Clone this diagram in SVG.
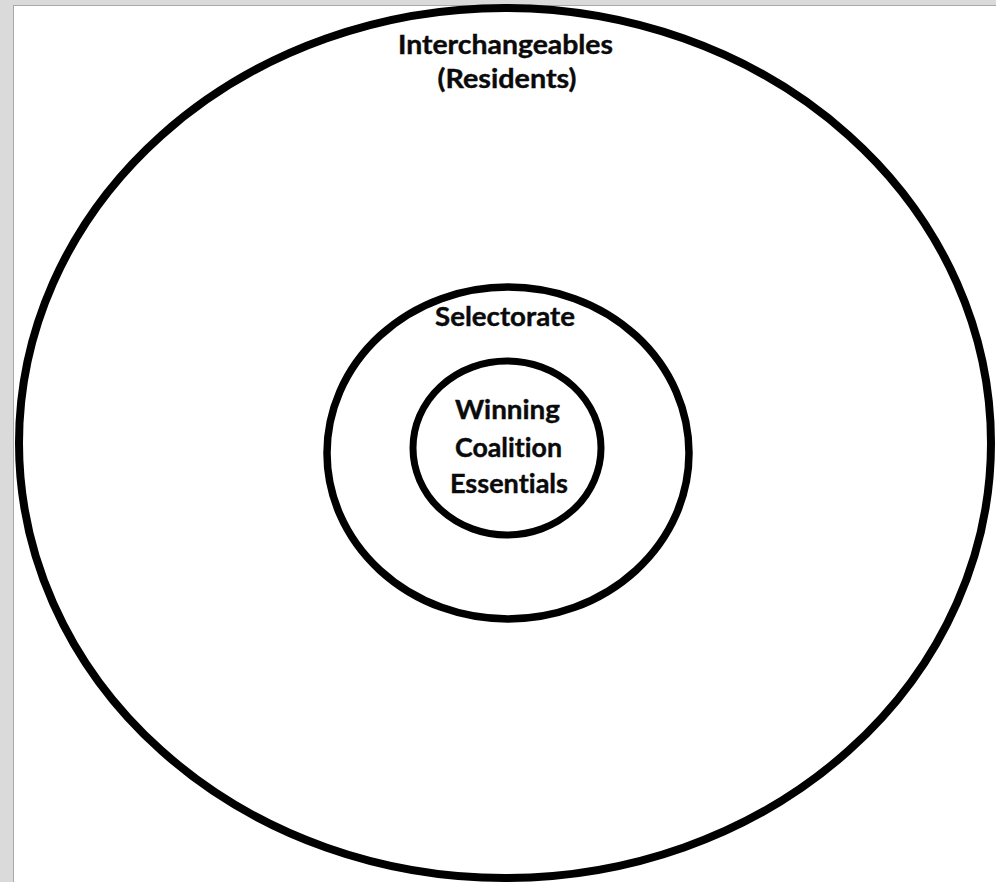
<svg xmlns="http://www.w3.org/2000/svg" width="996" height="882" viewBox="0 0 996 882">
<style>
.ring{fill:none;stroke:#000;}
.lbl{font-family:"Lato","Liberation Sans",sans-serif;font-weight:bold;font-size:26px;fill:#0a0a0a;text-anchor:middle;font-variant-ligatures:none;stroke:#0a0a0a;stroke-width:0.4;}
</style>
<rect x="0" y="0" width="996" height="882" fill="#dadada"/>
<rect x="13" y="5" width="983" height="877" fill="#a9a9a9"/>
<rect x="14" y="6" width="982" height="876" fill="#fff"/>
<g id="interchangeables">
<ellipse class="ring" cx="505" cy="443" rx="486" ry="435" stroke-width="8"/>
<text class="lbl" x="505.5" y="54" textLength="215" lengthAdjust="spacingAndGlyphs">Interchangeables</text>
<text class="lbl" x="507" y="88" textLength="139" lengthAdjust="spacingAndGlyphs">(Residents)</text>
</g>
<g id="selectorate">
<ellipse class="ring" cx="508" cy="453" rx="181" ry="166" stroke-width="7.5"/>
<text class="lbl" x="505" y="326" textLength="140" lengthAdjust="spacingAndGlyphs">Selectorate</text>
</g>
<g id="winning-coalition">
<ellipse class="ring" cx="507" cy="448" rx="94" ry="87" stroke-width="7"/>
<text class="lbl" x="507.5" y="419" textLength="105" lengthAdjust="spacingAndGlyphs">Winning</text>
<text class="lbl" x="508.5" y="456.5" textLength="107" lengthAdjust="spacingAndGlyphs">Coalition</text>
<text class="lbl" x="509" y="493" textLength="118" lengthAdjust="spacingAndGlyphs">Essentials</text>
</g>
<g id="connectors"></g>
</svg>
